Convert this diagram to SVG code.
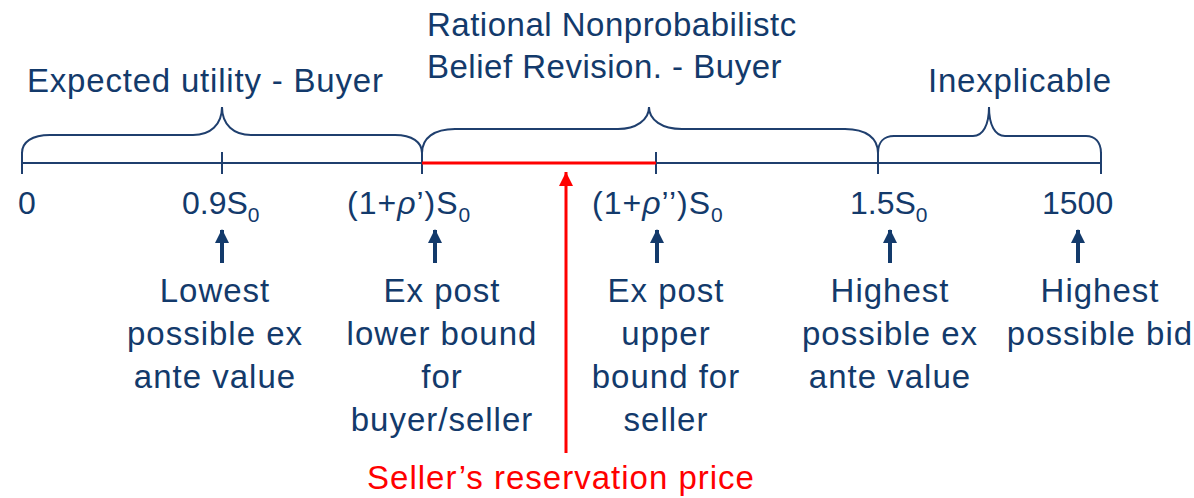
<svg xmlns="http://www.w3.org/2000/svg" width="1194" height="498" viewBox="0 0 1194 498">
<style>
text{font-family:"Liberation Sans",Arial,sans-serif;fill:#133A6B;}
.h{font-size:33px;letter-spacing:0.8px;}
.t{font-size:32px;}
.l{font-size:33px;letter-spacing:1px;text-anchor:middle;}
.sub{font-size:21px;}
.red{fill:#FF0000;font-size:33px;letter-spacing:1px;text-anchor:middle;}
.br{fill:none;stroke:#1F3F6E;stroke-width:2;}
.ax{stroke:#1F3F6E;stroke-width:2;}
.ar{stroke:#133A6B;stroke-width:4;}
</style>
<defs>
<marker id="ah" markerUnits="userSpaceOnUse" markerWidth="16" markerHeight="14" refX="13" refY="7" orient="auto">
<path d="M0,0 L14,7 L0,14 Z" fill="#133A6B"/>
</marker>
<marker id="rh" markerUnits="userSpaceOnUse" markerWidth="16" markerHeight="16" refX="14" refY="7" orient="auto">
<path d="M0,0 L14,7 L0,14 Z" fill="#FF0000"/>
</marker>
</defs>
<g id="axis">
<line class="ax" x1="22" y1="163" x2="1101" y2="163"/>
<line class="ax" x1="22" y1="152" x2="22" y2="174"/>
<line class="ax" x1="222" y1="152" x2="222" y2="174"/>
<line class="ax" x1="422" y1="152" x2="422" y2="174"/>
<line class="ax" x1="656" y1="152" x2="656" y2="174"/>
<line class="ax" x1="878" y1="152" x2="878" y2="174"/>
<line class="ax" x1="1101" y1="152" x2="1101" y2="174"/>
<line x1="422" y1="163" x2="656" y2="163" stroke="#FF0000" stroke-width="3"/>
</g>
<g id="brace-expected">
<path class="br" d="M22,153 C22,142 32,135 50,135 L193,135 C210,135 222,125 222,107 C222,125 234,135 251,135 L395,135 C412,135 422,142 422,153"/>
<text class="h" x="27" y="92">Expected utility - Buyer</text>
</g>
<g id="brace-rational">
<path class="br" d="M422,153 C422,138 434,129 455,129 L618,129 C636,129 649,120 649,107 C649,120 662,129 682,129 L845,129 C866,129 878,138 878,153"/>
<text class="h" style="letter-spacing:0.5px" x="427" y="36">Rational Nonprobabilistc</text>
<text class="h" style="letter-spacing:0.5px" x="427" y="78">Belief Revision. - Buyer</text>
</g>
<g id="brace-inexplicable">
<path class="br" d="M878,153 C878,142 884,136 894,136 L973,136 C983,136 989,125 989,107 C989,125 995,136 1005,136 L1086,136 C1095,136 1101,142 1101,153"/>
<text class="h" x="928" y="92">Inexplicable</text>
</g>
<g id="tick-0">
<text class="t" x="18" y="214">0</text>
</g>
<g id="tick-09">
<text class="t" x="182" y="214">0.9S<tspan class="sub" dy="8">0</tspan></text>
<line class="ar" x1="222" y1="263" x2="222" y2="230" marker-end="url(#ah)"/>
<text class="l" x="215" y="302">Lowest</text>
<text class="l" x="215" y="345">possible ex</text>
<text class="l" x="215" y="388">ante value</text>
</g>
<g id="tick-rho1">
<text class="t" x="347" y="214" style="letter-spacing:1px">(1+<tspan font-style="italic">ρ</tspan>’)S<tspan class="sub" dy="8">0</tspan></text>
<line class="ar" x1="435" y1="263" x2="435" y2="230" marker-end="url(#ah)"/>
<text class="l" x="442" y="302">Ex post</text>
<text class="l" x="442" y="345">lower bound</text>
<text class="l" x="442" y="388">for</text>
<text class="l" x="442" y="431">buyer/seller</text>
</g>
<g id="tick-rho2">
<text class="t" x="592" y="214" style="letter-spacing:1px">(1+<tspan font-style="italic">ρ</tspan>’’)S<tspan class="sub" dy="8">0</tspan></text>
<line class="ar" x1="657" y1="263" x2="657" y2="230" marker-end="url(#ah)"/>
<text class="l" x="666" y="302">Ex post</text>
<text class="l" x="666" y="345">upper</text>
<text class="l" x="666" y="388">bound for</text>
<text class="l" x="666" y="431">seller</text>
</g>
<g id="tick-15">
<text class="t" x="850" y="214">1.5S<tspan class="sub" dy="8">0</tspan></text>
<line class="ar" x1="890" y1="263" x2="890" y2="230" marker-end="url(#ah)"/>
<text class="l" x="890" y="302">Highest</text>
<text class="l" x="890" y="345">possible ex</text>
<text class="l" x="890" y="388">ante value</text>
</g>
<g id="tick-1500">
<text class="t" x="1042" y="214">1500</text>
<line class="ar" x1="1078" y1="263" x2="1078" y2="230" marker-end="url(#ah)"/>
<text class="l" x="1100" y="302">Highest</text>
<text class="l" x="1100" y="345">possible bid</text>
</g>
<g id="connectors">
<line x1="566" y1="453" x2="566" y2="172" stroke="#FF0000" stroke-width="3" marker-end="url(#rh)"/>
</g>
<g id="reservation">
<text class="red" x="561" y="489">Seller’s reservation price</text>
</g>
</svg>
